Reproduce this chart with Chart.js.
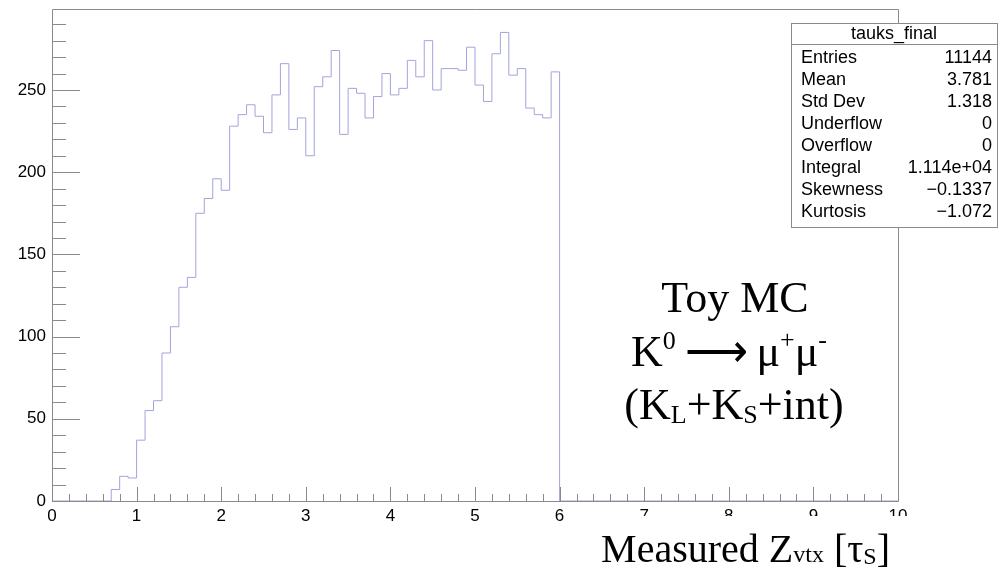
<!DOCTYPE html>
<html>
<head>
<meta charset="utf-8">
<script src="https://cdn.jsdelivr.net/npm/chart.js@4.4.0/dist/chart.umd.min.js"></script>
<style>
  html, body { margin: 0; padding: 0; background: #fff; }
</style>
</head>
<body>
<canvas id="histo" width="998" height="569"></canvas>
<script>
// tauks_final: 100 bins of 0.1 from 0 to 10
const binLow = 0;
const binWidth = 0.1;
const counts = [
  0, 0, 0, 0, 0, 0, 0, 7, 15, 14,
  37, 55, 61, 90, 106, 130, 136, 175, 184, 196,
  189, 228, 235, 241, 234, 224, 247, 266, 226, 233,
  210, 252, 258, 274, 223, 251, 248, 233, 246, 260,
  247, 251, 268, 258, 280, 250, 263, 263, 262, 276,
  253, 243, 272, 285, 259, 263, 239, 235, 233, 261,
  0, 0, 0, 0, 0, 0, 0, 0, 0, 0,
  0, 0, 0, 0, 0, 0, 0, 0, 0, 0,
  0, 0, 0, 0, 0, 0, 0, 0, 0, 0,
  0, 0, 0, 0, 0, 0, 0, 0, 0, 0
];
const yMax = 299.25;
const xTicks = [0, 1, 2, 3, 4, 5, 6, 7, 8, 9, 10];
const yTicks = [0, 50, 100, 150, 200, 250];

const statTitle = 'tauks_final';
const statLabels = ['Entries', 'Mean', 'Std Dev', 'Underflow', 'Overflow', 'Integral', 'Skewness', 'Kurtosis'];
const statValues = ['11144', '3.781', '1.318', '0', '0', '1.114e+04', '\u22120.1337', '\u22121.072'];

// step outline: one point per lower bin edge, plus the upper edge of the last bin
const points = counts.map((c, i) => ({ x: binLow + i * binWidth, y: c }));
points.push({ x: binLow + counts.length * binWidth, y: counts[counts.length - 1] });

const AXIS = '#8a8a8a';
const SANS = '"Liberation Sans", Arial, sans-serif';
const SERIF = '"Liberation Serif", "Times New Roman", serif';

function drawRuns(ctx, runs, x, base, align) {
  let w = 0;
  runs.forEach(r => { ctx.font = r.font; r.w = ctx.measureText(r.t).width; w += r.w; });
  let cx = align === 'center' ? x - w / 2 : align === 'right' ? x - w : x;
  ctx.textAlign = 'left';
  ctx.textBaseline = 'alphabetic';
  runs.forEach(r => { ctx.font = r.font; ctx.fillText(r.t, cx, base + (r.dy || 0)); cx += r.w; });
}

const big = '44px ' + SERIF;
const small = '26px ' + SERIF;
const titleBig = '40px ' + SERIF;
const titleSmall = '24px ' + SERIF;

const decorations = {
  id: 'decorations',
  afterDraw(chart) {
    const { ctx, chartArea: a, scales: { x, y } } = chart;
    ctx.save();
    ctx.strokeStyle = AXIS;
    ctx.lineWidth = 1;

    // frame and axes
    ctx.beginPath();
    ctx.rect(a.left + 0.5, a.top + 0.5, a.right - a.left, a.bottom - a.top);
    ctx.stroke();

    // y ticks: major every 50, minor every 10
    ctx.beginPath();
    for (let v = 0; v <= yMax; v += 10) {
      const py = Math.round(y.getPixelForValue(v)) + 0.5;
      const len = v % 50 === 0 ? 28 : 14;
      ctx.moveTo(a.left, py);
      ctx.lineTo(a.left + len, py);
    }
    // x ticks: major every 1, minor every 0.2
    for (let k = 0; k <= 50; k++) {
      const px = Math.round(x.getPixelForValue(k * 0.2)) + 0.5;
      const len = k % 5 === 0 ? 14 : 7;
      ctx.moveTo(px, a.bottom);
      ctx.lineTo(px, a.bottom - len);
    }
    ctx.stroke();

    // statistics box
    const bx = 791, by = 23, bw = 206, bh = 204;
    ctx.fillStyle = '#fff';
    ctx.fillRect(bx, by, bw, bh);
    ctx.strokeRect(bx + 0.5, by + 0.5, bw, bh);
    ctx.beginPath();
    ctx.moveTo(bx, 44.5);
    ctx.lineTo(bx + bw, 44.5);
    ctx.stroke();
    ctx.fillStyle = '#000';
    ctx.font = '18px ' + SANS;
    ctx.textBaseline = 'middle';
    ctx.textAlign = 'center';
    ctx.fillText(statTitle, bx + bw / 2, 34);
    statLabels.forEach((lab, i) => {
      const ry = 58 + i * 22;
      ctx.textAlign = 'left';
      ctx.fillText(lab, 801, ry);
      ctx.textAlign = 'right';
      ctx.fillText(statValues[i], 992, ry);
    });

    // x-axis title sits on its own white box
    ctx.fillStyle = '#fff';
    ctx.fillRect(590, 516, 408, 53);
    ctx.fillStyle = '#000';
    drawRuns(ctx, [
      { t: 'Measured Z', font: titleBig },
      { t: 'vtx', font: titleSmall },
      { t: ' [', font: titleBig },
      { t: '\u03C4', font: titleBig },
      { t: 'S', font: titleSmall, dy: 2 },
      { t: ']', font: titleBig }
    ], 890, 562, 'right');

    // annotation
    drawRuns(ctx, [{ t: 'Toy MC', font: big }], 735, 312, 'center');
    drawRuns(ctx, [
      { t: 'K', font: big },
      { t: '0', font: small, dy: -17 },
      { t: '\u2009\u27F6\u2009', font: big },
      { t: '\u03BC', font: big },
      { t: '+', font: small, dy: -18 },
      { t: '\u03BC', font: big },
      { t: '-', font: small, dy: -18 }
    ], 729, 366, 'center');
    drawRuns(ctx, [
      { t: '(K', font: big },
      { t: 'L', font: small, dy: 4 },
      { t: '+K', font: big },
      { t: 'S', font: small, dy: 4 },
      { t: '+int)', font: big }
    ], 734, 419, 'center');

    ctx.restore();
  }
};

new Chart(document.getElementById('histo'), {
  type: 'line',
  data: {
    datasets: [{
      label: statTitle,
      data: points,
      stepped: true,
      borderColor: '#a3a3dc',
      borderWidth: 1,
      pointRadius: 0,
      fill: false
    }]
  },
  options: {
    responsive: false,
    animation: false,
    layout: { padding: { top: 9, right: 100, left: 0, bottom: 0 } },
    plugins: { legend: { display: false }, tooltip: { enabled: false } },
    scales: {
      x: {
        type: 'linear',
        min: 0,
        max: 10,
        afterBuildTicks: s => { s.ticks = xTicks.map(v => ({ value: v })); },
        afterFit: s => { s.height = 68; },
        grid: { display: false, drawTicks: false },
        border: { display: false },
        ticks: { color: '#000', padding: 5, maxRotation: 0, font: { family: SANS, size: 17 } }
      },
      y: {
        type: 'linear',
        min: 0,
        max: yMax,
        afterBuildTicks: s => { s.ticks = yTicks.map(v => ({ value: v })); },
        afterFit: s => { s.width = 52; s.paddingTop = 0; s.paddingBottom = 0; },
        grid: { display: false, drawTicks: false },
        border: { display: false },
        ticks: { color: '#000', padding: 6, font: { family: SANS, size: 17 } }
      }
    }
  },
  plugins: [decorations]
});
</script>
</body>
</html>
